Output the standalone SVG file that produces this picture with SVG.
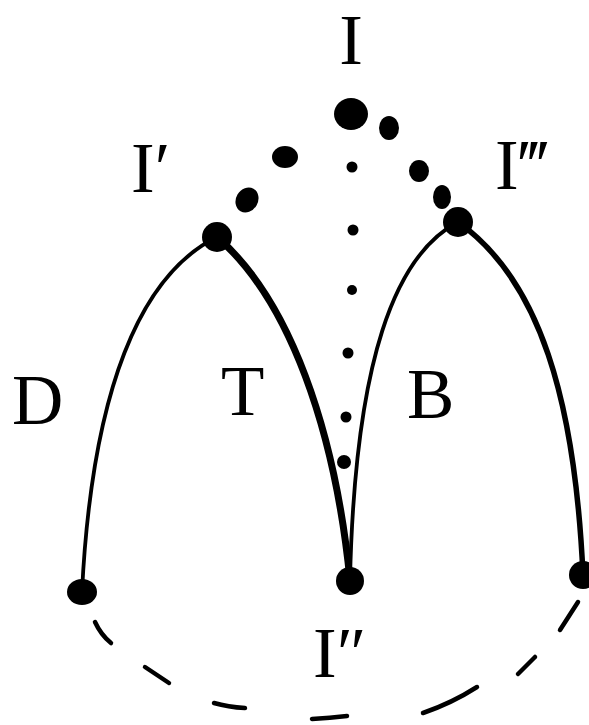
<svg xmlns="http://www.w3.org/2000/svg" width="589" height="725" viewBox="0 0 589 725">
<style>
.lbl{font-family:"Liberation Serif","Times New Roman",serif;font-size:71px;fill:#000}
.arc{fill:none;stroke:#000;stroke-linecap:round}
.dash{fill:none;stroke:#000;stroke-width:4.5;stroke-linecap:round}
.dot{fill:#000}
</style>
<rect width="589" height="725" fill="#fff"/>
<g id="connectors">
<path class="arc" d="M82,592 C92,390 140,275 217,237" stroke-width="3.8"/>
<path class="arc" d="M217,237 C290,300 335,430 350,580" stroke-width="7"/>
<path class="arc" d="M458,222 C395,255 355,360 350,580" stroke-width="3.8"/>
<path class="arc" d="M458,222 C540,280 575,400 583,575" stroke-width="5.5"/>
<g id="dashed-arc">
<path class="dash" d="M95,622 Q101,635 111,643"/>
<path class="dash" d="M145,667 L169,683"/>
<path class="dash" d="M214,703 Q228,707 245,708"/>
<path class="dash" d="M312,719 Q330,718 347,716"/>
<path class="dash" d="M423,713 Q452,703 477,687"/>
<path class="dash" d="M518,674 L535,657"/>
<path class="dash" d="M560,630 L578,602"/>
</g>
<g id="dotted-arc">
<ellipse class="dot" cx="247" cy="200" rx="11" ry="13" transform="rotate(30 247 200)"/>
<ellipse class="dot" cx="285" cy="157" rx="13" ry="11"/>
<ellipse class="dot" cx="389" cy="128" rx="10" ry="12"/>
<ellipse class="dot" cx="419" cy="171" rx="10" ry="11"/>
<ellipse class="dot" cx="442" cy="197" rx="9" ry="12"/>
</g>
<g id="dotted-line">
<circle class="dot" cx="352" cy="167" r="5.5"/>
<circle class="dot" cx="353" cy="230" r="5.5"/>
<circle class="dot" cx="352" cy="290" r="5"/>
<circle class="dot" cx="348" cy="353" r="5.5"/>
<circle class="dot" cx="346" cy="417" r="5.5"/>
<circle class="dot" cx="344" cy="462" r="7"/>
</g>
</g>
<g id="node-I">
<ellipse class="dot" cx="351" cy="114" rx="17" ry="16"/>
<text class="lbl" x="351" y="64" text-anchor="middle">I</text>
</g>
<g id="node-I1">
<circle class="dot" cx="217" cy="237" r="15"/>
<text class="lbl" x="131" y="192">I′</text>
</g>
<g id="node-I3">
<circle class="dot" cx="458" cy="222" r="15"/>
<text class="lbl" x="495" y="189">I‴</text>
</g>
<g id="node-I2">
<circle class="dot" cx="350" cy="581" r="14"/>
<text class="lbl" x="313" y="677">I″</text>
</g>
<g id="node-left">
<ellipse class="dot" cx="82" cy="592" rx="15" ry="13"/>
</g>
<g id="node-right">
<circle class="dot" cx="583" cy="575" r="14"/>
</g>
<text class="lbl" x="12" y="424">D</text>
<text class="lbl" x="221" y="415">T</text>
<text class="lbl" x="407" y="418">B</text>
</svg>
